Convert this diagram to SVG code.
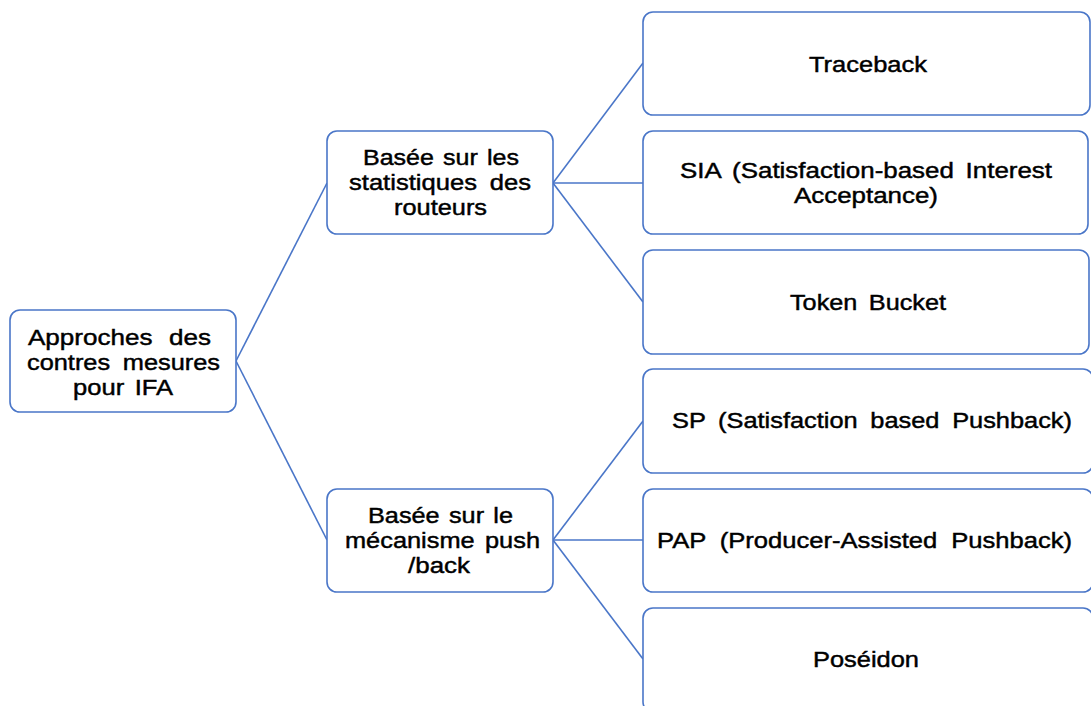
<svg xmlns="http://www.w3.org/2000/svg" width="1091" height="706" viewBox="0 0 1091 706">
  <style>
    .box { fill: #ffffff; stroke: #4a76c8; stroke-width: 1.6; }
    .link { fill: none; stroke: #4a76c8; stroke-width: 1.6; }
    .label { font-family: "Liberation Sans", Arial, sans-serif; font-size: 22.5px; fill: #000000; stroke: #000000; stroke-width: 0.45; text-anchor: start; }
  </style>
  <rect width="1091" height="706" fill="#ffffff"/>

  <!-- tree connectors -->
  <g id="connectors">
    <path class="link" d="M236 361 L327 183"/>
    <path class="link" d="M236 361 L327 540"/>
    <path class="link" d="M553 183 L643 63"/>
    <path class="link" d="M553 183 L643 183"/>
    <path class="link" d="M553 183 L643 302"/>
    <path class="link" d="M553 540 L643 421"/>
    <path class="link" d="M553 540 L643 540"/>
    <path class="link" d="M553 540 L643 659"/>
  </g>

  <!-- root -->
  <g id="root">
    <rect class="box" x="10" y="310" width="226" height="102" rx="10"/>
    <text class="label" x="28" y="344.5" word-spacing="8" textLength="183" lengthAdjust="spacingAndGlyphs">Approches des</text>
    <text class="label" x="27" y="369.7" word-spacing="5" textLength="193" lengthAdjust="spacingAndGlyphs">contres mesures</text>
    <text class="label" x="73" y="394.9" word-spacing="3" textLength="100" lengthAdjust="spacingAndGlyphs">pour IFA</text>
  </g>

  <!-- level 1 -->
  <g id="stats">
    <rect class="box" x="327" y="131" width="226" height="103" rx="10"/>
    <text class="label" x="363" y="164.5" word-spacing="2" textLength="156" lengthAdjust="spacingAndGlyphs">Basée sur les</text>
    <text class="label" x="349" y="189.7" word-spacing="5" textLength="182" lengthAdjust="spacingAndGlyphs">statistiques des</text>
    <text class="label" x="394" y="214.9" textLength="93" lengthAdjust="spacingAndGlyphs">routeurs</text>
  </g>
  <g id="pushback">
    <rect class="box" x="327" y="489" width="226" height="103" rx="10"/>
    <text class="label" x="368" y="523" word-spacing="2" textLength="145" lengthAdjust="spacingAndGlyphs">Basée sur le</text>
    <text class="label" x="345" y="548.2" word-spacing="3" textLength="195" lengthAdjust="spacingAndGlyphs">mécanisme push</text>
    <text class="label" x="408" y="573.4" textLength="62" lengthAdjust="spacingAndGlyphs">/back</text>
  </g>

  <!-- level 2 -->
  <g id="traceback">
    <rect class="box" x="643" y="12" width="447" height="103" rx="10"/>
    <text class="label" x="809" y="72" textLength="118" lengthAdjust="spacingAndGlyphs">Traceback</text>
  </g>
  <g id="sia">
    <rect class="box" x="643" y="131" width="445" height="103" rx="10"/>
    <text class="label" x="680" y="178" word-spacing="4" textLength="372" lengthAdjust="spacingAndGlyphs">SIA (Satisfaction-based Interest</text>
    <text class="label" x="794" y="203.2" textLength="144" lengthAdjust="spacingAndGlyphs">Acceptance)</text>
  </g>
  <g id="token-bucket">
    <rect class="box" x="643" y="250" width="446" height="104" rx="10"/>
    <text class="label" x="790" y="310" word-spacing="4" textLength="156" lengthAdjust="spacingAndGlyphs">Token Bucket</text>
  </g>
  <g id="sp">
    <rect class="box" x="643" y="369" width="450" height="104" rx="10"/>
    <text class="label" x="672" y="428" word-spacing="5" textLength="400" lengthAdjust="spacingAndGlyphs">SP (Satisfaction based Pushback)</text>
  </g>
  <g id="pap">
    <rect class="box" x="643" y="489" width="450" height="103" rx="10"/>
    <text class="label" x="657" y="548" word-spacing="6" textLength="415" lengthAdjust="spacingAndGlyphs">PAP (Producer-Assisted Pushback)</text>
  </g>
  <g id="poseidon">
    <rect class="box" x="643" y="608" width="450" height="104" rx="10"/>
    <text class="label" x="813" y="667" textLength="106" lengthAdjust="spacingAndGlyphs">Poséidon</text>
  </g>
</svg>
